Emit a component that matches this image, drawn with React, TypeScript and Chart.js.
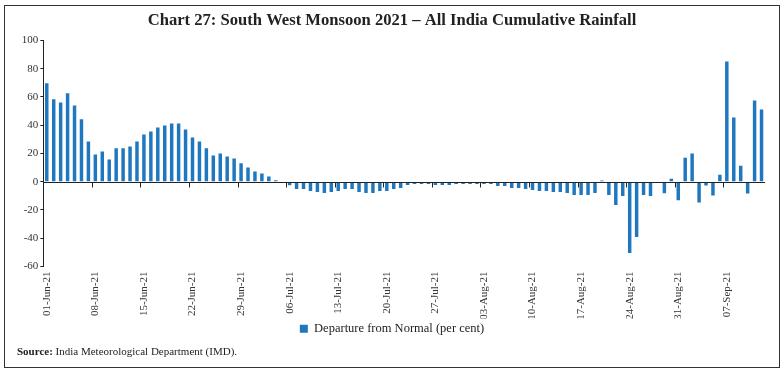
import React, { useEffect, useRef } from "react";
import { Chart, registerables } from "chart.js";

Chart.register(...registerables);

// Categories: daily dates 01-Jun-21 .. 12-Sep-21
const MONTHS = ["Jun", "Jul", "Aug", "Sep"];
const MONTH_DAYS = [30, 31, 31, 12];
const categories: string[] = [];
MONTHS.forEach((m, mi) => {
  for (let d = 1; d <= MONTH_DAYS[mi]; d++) {
    categories.push(`${String(d).padStart(2, "0")}-${m}-21`);
  }
});

const tickLabels = [
  "01-Jun-21", "08-Jun-21", "15-Jun-21", "22-Jun-21", "29-Jun-21",
  "06-Jul-21", "13-Jul-21", "20-Jul-21", "27-Jul-21", "03-Aug-21",
  "10-Aug-21", "17-Aug-21", "24-Aug-21", "31-Aug-21", "07-Sep-21",
];

const yTicks = [-60, -40, -20, 0, 20, 40, 60, 80, 100];

// Departure from Normal (per cent)
const departure = [
  69.7, 58.3, 56.1, 62.6, 54.0, 44.2, 28.5, 19.3, 21.4, 15.8,
  23.6, 23.6, 25.0, 28.5, 33.4, 35.6, 38.4, 39.8, 41.2, 41.2,
  37.0, 31.3, 28.5, 23.6, 18.6, 20.0, 17.9, 16.5, 13.0, 10.1,
  7.3, 5.9, 3.7, 1.0, 0, -2.5, -5.2, -5.2, -6.6, -7.3,
  -8.0, -7.3, -6.6, -5.2, -5.2, -7.3, -8.0, -8.0, -6.6, -6.6,
  -5.2, -4.5, -2.4, -1.6, -1.6, -1.6, -2.4, -2.4, -2.4, -1.6,
  -1.6, -1.6, -1.6, -1.6, -1.6, -3.1, -3.1, -4.5, -4.5, -5.2,
  -5.9, -6.6, -6.6, -7.3, -7.3, -8.0, -9.4, -9.4, -9.4, -8.0,
  0.9, -9.4, -16.5, -10.1, -50.4, -39.1, -9.4, -10.1, 0, -8.2,
  2.1, -13.2, 17.0, 19.9, -14.7, -2.6, -9.7, 5.0, 85.1, 45.4,
  11.3, -8.3, 57.4, 51.1,
];

const SERIF = "'Liberation Serif', 'DejaVu Serif', serif";

const zeroAxisPlugin = {
  id: "zeroAxis",
  afterDatasetsDraw(chart: any) {
    const { ctx, chartArea, scales } = chart;
    const xs = scales.x;
    const ys = scales.y;
    const y0 = Math.round(ys.getPixelForValue(0)) + 0.5;
    ctx.save();
    ctx.strokeStyle = "#222";
    ctx.lineWidth = 1;
    ctx.beginPath();
    ctx.moveTo(chartArea.left, y0);
    ctx.lineTo(chartArea.right, y0);
    categories.forEach((c, i) => {
      if (i > 0 && tickLabels.includes(c)) {
        const xb = Math.round((xs.getPixelForValue(i - 1) + xs.getPixelForValue(i)) / 2) + 0.5;
        ctx.moveTo(xb, y0);
        ctx.lineTo(xb, y0 + 5);
      }
    });
    ctx.stroke();
    ctx.restore();
  },
};

export default function App() {
  const canvasRef = useRef<HTMLCanvasElement | null>(null);

  useEffect(() => {
    document.body.style.margin = "0";
    const canvas = canvasRef.current;
    if (!canvas) return;
    const chart = new Chart(canvas, {
      type: "bar",
      data: {
        labels: categories,
        datasets: [
          {
            label: "Departure from Normal (per cent)",
            data: departure,
            backgroundColor: "#1f77bf",
            borderWidth: 0,
            barPercentage: 0.5,
            categoryPercentage: 1.0,
          },
        ],
      },
      options: {
        animation: false,
        responsive: false,
        maintainAspectRatio: false,
        layout: { padding: { left: 9.5, right: 9.5, top: 0, bottom: 27 } },
        font: { family: SERIF },
        plugins: {
          title: {
            display: true,
            text: "Chart 27: South West Monsoon 2021 – All India Cumulative Rainfall",
            color: "#222",
            font: { family: SERIF, size: 16.6, weight: "bold" },
            padding: { top: 11, bottom: 9.5 },
          },
          legend: {
            display: true,
            position: "bottom",
            labels: {
              color: "#222",
              font: { family: SERIF, size: 12.5 },
              boxWidth: 8,
              boxHeight: 8,
              padding: 4,
            },
          },
          tooltip: { enabled: false },
        },
        scales: {
          x: {
            type: "category",
            grid: { display: false, drawTicks: false },
            border: { display: false },
            ticks: {
              autoSkip: false,
              maxRotation: 90,
              minRotation: 90,
              padding: 5,
              color: "#333",
              font: { family: SERIF, size: 11 },
              callback: (_v: any, i: number) =>
                tickLabels.includes(categories[i]) ? categories[i] : "",
            },
            afterFit: (s: any) => {
              s.height = 52;
            },
          },
          y: {
            min: -60,
            max: 100,
            border: { display: true, color: "#222", width: 1 },
            grid: {
              display: true,
              drawOnChartArea: false,
              drawTicks: true,
              tickLength: 3,
              color: "#222",
            },
            afterBuildTicks: (s: any) => {
              s.ticks = yTicks.map((v) => ({ value: v }));
            },
            ticks: {
              padding: 2,
              color: "#333",
              font: { family: SERIF, size: 11 },
            },
            afterFit: (s: any) => {
              s.width = 33.8;
            },
          },
          yRight: {
            position: "right",
            display: true,
            grid: { display: false, drawTicks: false },
            border: { display: false },
            ticks: { display: false },
            afterFit: (s: any) => {
              s.width = 9.5;
            },
          },
        },
      },
      plugins: [zeroAxisPlugin],
    });
    return () => chart.destroy();
  }, []);

  return (
    <div style={{ position: "relative", width: 784, height: 372, background: "#fff" }}>
      <canvas ref={canvasRef} width={784} height={372} style={{ position: "absolute", left: 0, top: 0 }} />
      <div
        style={{
          position: "absolute",
          left: 4,
          top: 5,
          width: 776,
          height: 363,
          boxSizing: "border-box",
          border: "1px solid #333",
          pointerEvents: "none",
        }}
      />
      <div
        style={{
          position: "absolute",
          left: 17,
          top: 345,
          fontFamily: SERIF,
          fontSize: 11,
          color: "#222",
          whiteSpace: "nowrap",
        }}
      >
        <b>Source:</b> India Meteorological Department (IMD).
      </div>
    </div>
  );
}
